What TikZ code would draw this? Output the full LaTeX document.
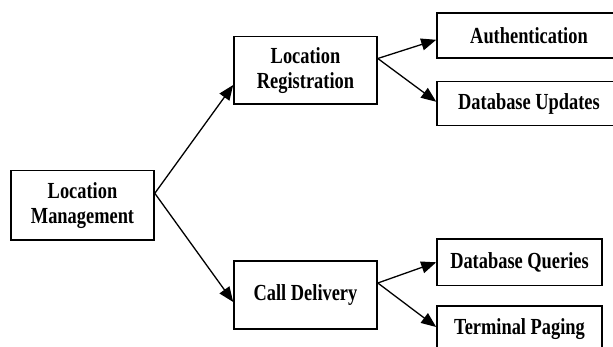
\documentclass[tikz,border=0pt]{standalone}
\usepackage{fontspec}
\newfontfamily\boxfont{Liberation Serif}[FakeStretch=0.8]
\usetikzlibrary{arrows.meta,calc}
\begin{document}
\begin{tikzpicture}
[x=1pt,y=-1pt,
  boxdecorate/.style={shape=rectangle,draw,line width=1.6pt,align=center,
    inner sep=0pt,font=\boxfont\bfseries\fontsize{23}{25}\selectfont},%
  linedecorate/.style={-{Triangle[length=15pt,width=12pt]},line width=1.3pt}]
\useasboundingbox (0,0) rectangle (613,347);
\clip (0,0) rectangle (613,347);
%% nodes or boxes
\foreach \nodename/\x/\y/\w/\h/\boxtext in {lm/82.5/205.3/143/69.3/{Location\\Management},
  lr/305.5/70.5/143/67.6/{Location\\Registration}, cd/305.5/295/143/68/{Call Delivery},
  auth/529/35.8/184/45/{Authentication}, dbu/529/103.7/184/44/{Database Updates},
  dbq/519.5/262.3/165/46.7/{Database Queries}, tp/519.5/329/165/46/{Terminal Paging}} {
  \node (\nodename) at (\x,\y) [boxdecorate,minimum width=\w pt,minimum height=\h pt] {\boxtext};
}
%% ports on the box edges
\foreach \portname/\nodename/\side/\dy in {lm-out/lm/east/-12, lr-in/lr/west/14.5,
  cd-in/cd/west/7, lr-out/lr/east/-12, auth-in/auth/west/4, dbu-in/dbu/west/-2,
  cd-out/cd/east/-12, dbq-in/dbq/west/0, tp-in/tp/west/-2} {
  \coordinate (\portname) at ($(\nodename.\side)+(0,\dy)$);
}
%% edges or arrows
\path
\foreach \startnode/\endnode in {lm-out/lr-in, lm-out/cd-in, lr-out/auth-in,
  lr-out/dbu-in, cd-out/dbq-in, cd-out/tp-in} {
  (\startnode) edge[linedecorate] (\endnode)
};
\end{tikzpicture}
\end{document}
